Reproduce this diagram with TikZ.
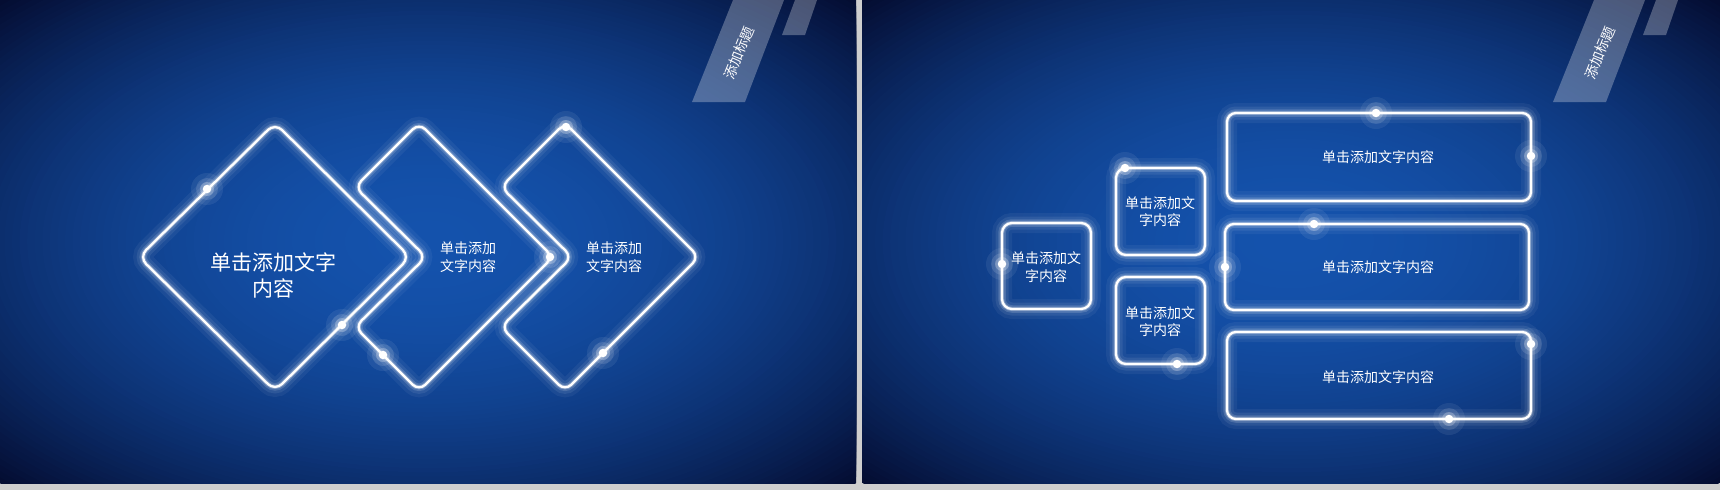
\documentclass[tikz,border=0pt]{standalone}
\usepackage{fontspec}
\newfontfamily\cjk{Noto Sans CJK SC}
\definecolor{bgA}{RGB}{20,82,172}
\definecolor{bgE}{RGB}{4,13,50}
\definecolor{sepgrey}{RGB}{206,206,206}
\tikzset{
  neon/.style={draw=white, line width=2.3pt, line join=round, rounded corners=#1,
    preaction={draw=white, draw opacity=0.05, line width=20pt},
    preaction={draw=white, draw opacity=0.08, line width=13pt},
    preaction={draw=white, draw opacity=0.15, line width=7.5pt},
    preaction={draw=white, draw opacity=0.3, line width=4.2pt}},
  spark/.style={circle, fill=white, inner sep=0pt, minimum size=8.5pt},
  lbl/.style={text=white, align=center, inner sep=0pt, font=\cjk\fontsize{14}{17.5}\selectfont},
  biglbl/.style={text=white, align=center, inner sep=0pt, font=\cjk\fontsize{21}{26}\selectfont},
  ttl/.style={text=white, inner sep=0pt, font=\cjk\fontsize{14}{16}\selectfont},
  band/.style={fill=white, fill opacity=0.28}
}
\newcommand\glowdot[2]{%
  \fill[white, opacity=0.07] (#2) circle (16pt);
  \fill[white, opacity=0.12] (#2) circle (11pt);
  \fill[white, opacity=0.25] (#2) circle (7pt);
  \node[spark] (#1) at (#2) {};}
\newcommand\slidebg[4]{% llx, urx, cx, cy
  \begin{scope}
  \clip (#1,0) rectangle (#2,483);
  \foreach \i in {80,79,...,1} {
    \pgfmathsetmacro\w{100*(1-(\i/80)^2)}
    \pgfmathsetmacro\rx{7.5625*\i}
    \pgfmathsetmacro\ry{4.275*\i}
    \fill[bgA!\w!bgE] (#3,#4) ellipse [x radius=\rx, y radius=\ry];
  }
  \end{scope}}
\begin{document}
\begin{tikzpicture}[x=1pt,y=-1pt]
\useasboundingbox (0,0) rectangle (1720,490);
\fill[sepgrey] (0,0) rectangle (1720,490);
\slidebg{0}{856}{428}{241.5}
\slidebg{862}{1720}{1291}{241.5}

% title bands
\fill[band] (733,0) -- (784,0) -- (745,102) -- (692,102) -- cycle;
\fill[band] (795,0) -- (817,0) -- (805,35) -- (782,35) -- cycle;
\node[ttl, rotate=68] (t1) at (739,53) {添加标题};
\fill[band] (1594,0) -- (1645,0) -- (1606,102) -- (1553,102) -- cycle;
\fill[band] (1656,0) -- (1678,0) -- (1666,35) -- (1643,35) -- cycle;
\node[ttl, rotate=68] (t2) at (1600,53) {添加标题};

% left slide shapes
\draw[neon=10pt] (207,190) -- (275,123) -- (410,257) -- (275,391) -- (139,257) -- cycle;
\draw[neon=9pt] (486,190) -- (553,257) -- (419,391) -- (355,327) -- (426,257) -- (355,187) -- (419,123) -- cycle;
\draw[neon=9pt] (632,190) -- (699,257) -- (565,391) -- (501,327) -- (572,257) -- (501,187) -- (565,123) -- cycle;

\node[biglbl] (l1) at (273,275) {单击添加文字\\内容};
\node[lbl] (l2) at (468,257) {单击添加\\文字内容};
\node[lbl] (l3) at (614,257) {单击添加\\文字内容};

\glowdot{d1}{207,189}
\glowdot{d2}{342,325}
\glowdot{d3}{383,355}
\glowdot{d4}{550,257}
\glowdot{d5}{566,127}
\glowdot{d6}{603,353}

% right slide boxes
\draw[neon=10pt] (1002,223) rectangle (1091,309);
\draw[neon=10pt] (1116,168) rectangle (1205,255);
\draw[neon=10pt] (1116,277) rectangle (1205,364);
\draw[neon=9pt] (1227,113) rectangle (1531,201);
\draw[neon=9pt] (1225,224) rectangle (1529,310);
\draw[neon=9pt] (1227,332) rectangle (1531,419);

\node[lbl] (r1) at (1046,267) {单击添加文\\字内容};
\node[lbl] (r2) at (1160,211.5) {单击添加文\\字内容};
\node[lbl] (r3) at (1160,321.5) {单击添加文\\字内容};
\node[lbl] (r4) at (1378,157) {单击添加文字内容};
\node[lbl] (r5) at (1378,267) {单击添加文字内容};
\node[lbl] (r6) at (1378,377) {单击添加文字内容};

\glowdot{e1}{1002,264}
\glowdot{e2}{1125,168}
\glowdot{e3}{1177,364}
\glowdot{e4}{1376,113}
\glowdot{e5}{1531,156}
\glowdot{e6}{1314,224}
\glowdot{e7}{1225,267}
\glowdot{e8}{1531,344}
\glowdot{e9}{1449,419}
\end{tikzpicture}
\end{document}
